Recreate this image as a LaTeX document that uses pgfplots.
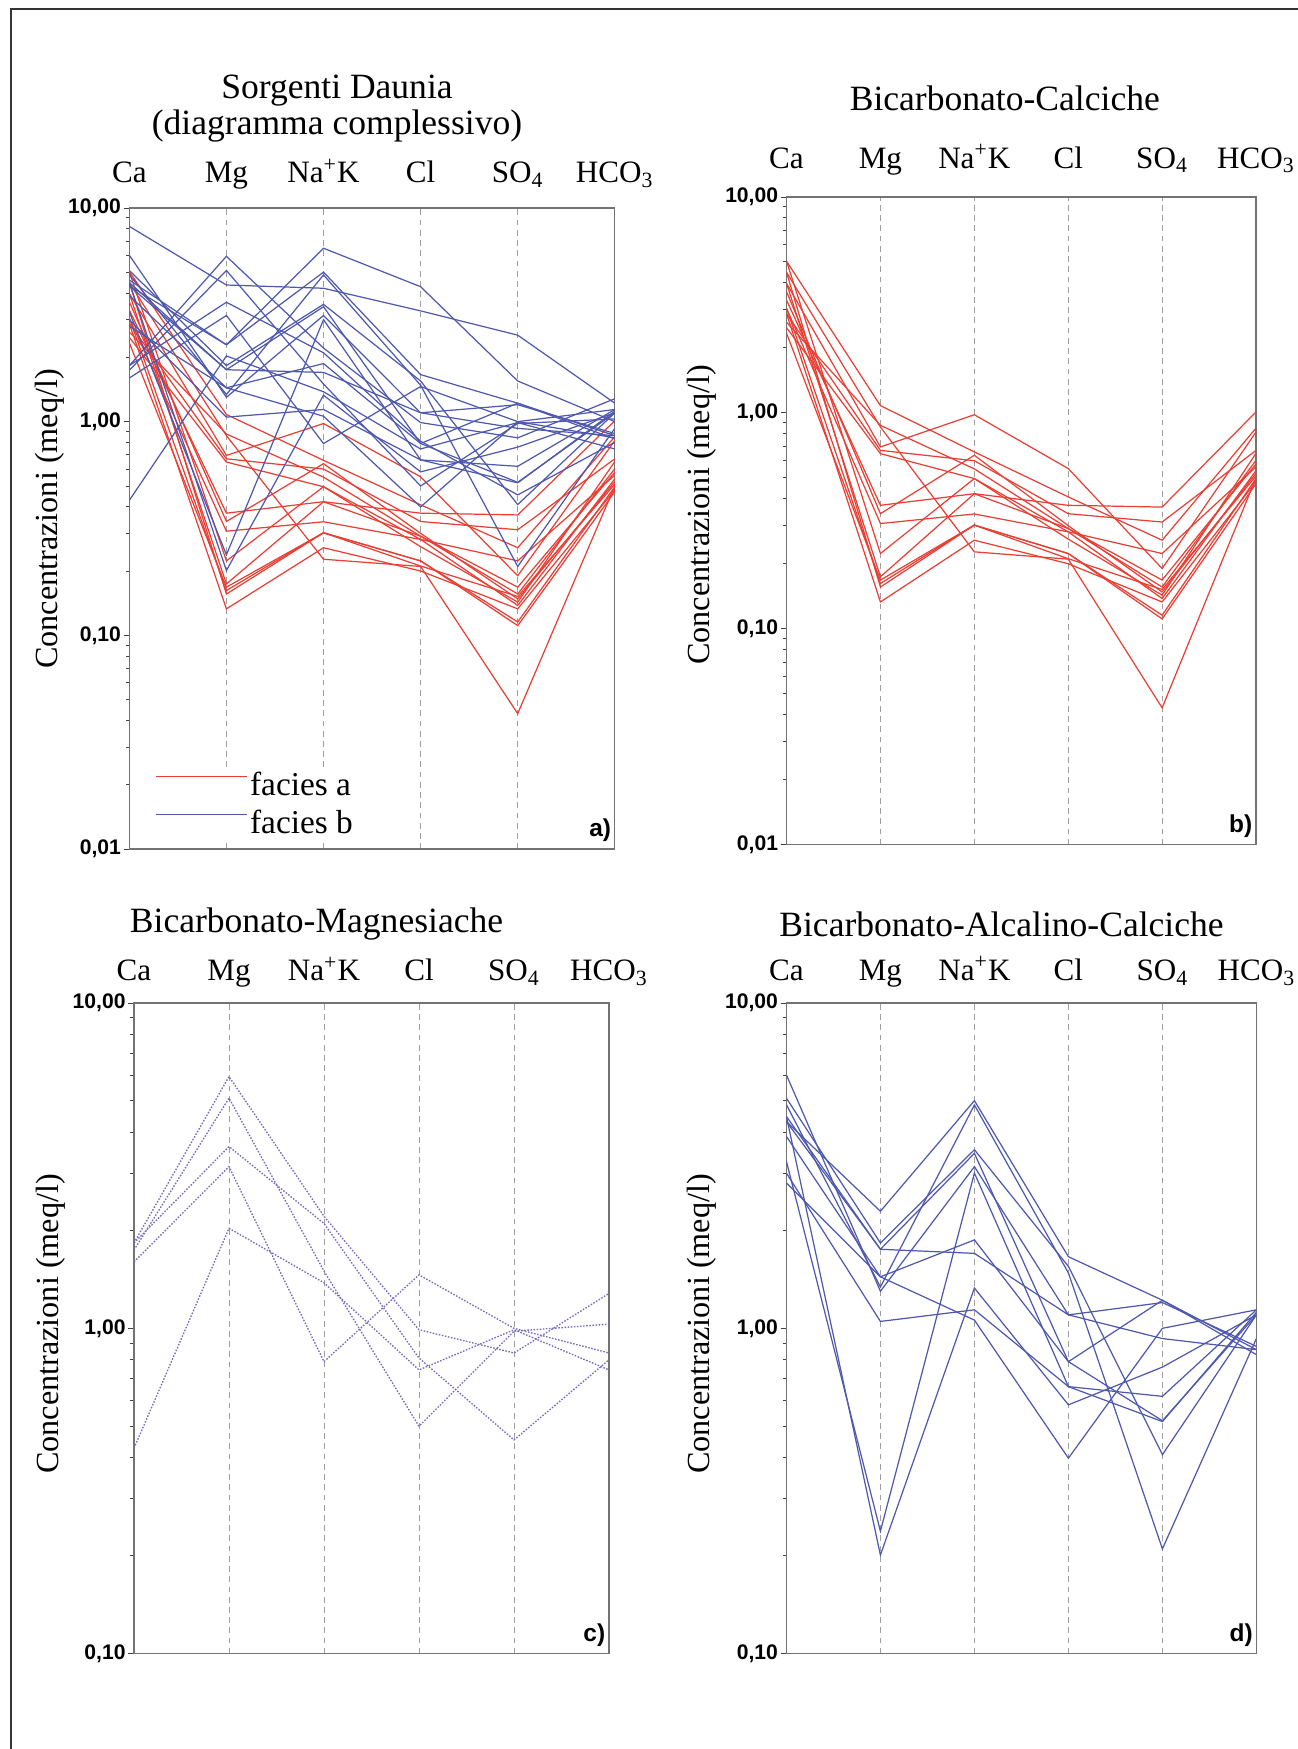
\documentclass[border=0pt]{standalone}
\usepackage{fontspec}
\setmainfont{Liberation Serif}
\newfontfamily\sansb{Liberation Sans}
\usepackage{pgfplots}
\usepackage{pgfplotstable}
\pgfplotsset{compat=1.18}

\definecolor{rline}{RGB}{232,62,52}
\definecolor{bline}{RGB}{78,88,172}
\definecolor{pline}{RGB}{118,108,190}

\newcommand\tickfont{\sansb\bfseries\fontsize{9.5}{11}\selectfont}
\newcommand\labfont{\sansb\bfseries\fontsize{11}{12}\selectfont}
\newcommand\catfont{\fontsize{14}{16}\selectfont}
\newcommand\titlefont{\fontsize{16}{19}\selectfont}
\newcommand\ylabfont{\fontsize{14.5}{17}\selectfont}
\newcommand\legfont{\fontsize{15}{17}\selectfont}

% Bicarbonato-Calciche (facies a)
\pgfplotstableread{
x s1 s2 s3 s4 s5 s6 s7 s8 s9 s10 s11 s12 s13 s14 s15
0 5.04 4.48 2.63 3.98 2.88 2.48 3.33 3.64 3.05 5.04 3.98 2.34 3.05 4.48 2.88
1 1.08 0.86 0.875 0.695 0.67 0.647 0.373 0.341 0.307 0.223 0.174 0.168 0.162 0.156 0.133
2 0.659 0.227 0.55 0.98 0.60 0.496 0.422 0.636 0.34 0.496 0.422 0.302 0.302 0.302 0.257
3 0.408 0.21 0.291 0.552 0.341 0.281 0.373 0.30 0.281 0.26 0.291 0.223 0.223 0.211 0.20
4 0.257 0.043 0.156 0.19 0.312 0.223 0.366 0.148 0.138 0.143 0.168 0.1155 0.111 0.152 0.133
5 0.85 0.50 0.603 0.815 0.67 0.562 1.01 0.524 0.54 0.65 0.58 0.496 0.47 0.51 0.48
}\tabB

% Bicarbonato-Magnesiache
\pgfplotstableread{
x s1 s2 s3 s4 s5
0 1.83 1.74 1.83 1.60 0.428
1 5.94 5.10 3.62 3.14 2.03
2 2.21 1.50 2.10 0.79 1.38
3 0.99 0.50 0.81 1.46 0.745
4 0.84 0.98 0.454 1.00 0.99
5 1.28 1.03 0.80 0.84 0.745
}\tabC

% Bicarbonato-Alcalino-Calciche
\pgfplotstableread{
x s1 s2 s3 s4 s5 s6 s7 s8 s9 s10 s11
0 4.32 4.87 5.10 4.48 6.01 3.26 4.48 3.00 4.32 3.89 2.80
1 2.29 1.34 1.83 1.75 1.30 0.238 0.201 1.05 1.75 1.44 1.44
2 5.01 4.86 3.54 3.45 3.14 3.00 1.33 1.14 1.70 1.87 1.06
3 1.66 1.48 1.55 0.79 1.10 0.662 0.582 0.662 1.10 0.79 0.399
4 1.22 0.21 0.409 1.22 1.20 0.618 0.76 0.517 0.93 0.52 1.00
5 0.86 0.93 1.10 0.83 0.88 1.14 1.10 1.12 0.86 1.10 1.14
}\tabD

% further facies b samples seen only in the overall diagram
\pgfplotstableread{
x s1 s2
0 8.2 4.6
1 4.36 2.29
2 4.21 6.48
3 3.3 4.28
4 2.54 1.55
5 1.22 1.0
}\tabE

\pgfplotsset{
  every axis/.append style={
    scale only axis,
    xmin=0, xmax=5,
    xtick={0,...,5},
    xticklabels={Ca,Mg,Na\textsuperscript{+}K,Cl,SO\textsubscript{4},HCO\textsubscript{3}},
    xticklabel pos=upper,
    xtick style={draw=none},
    xticklabel style={font=\catfont, anchor=base},
    xmajorgrids,
    x grid style={gray!75, line width=0.45pt, dash pattern=on 2.6pt off 2pt},
    ytick pos=left, tick align=outside,
    major tick length=2.6pt, minor tick length=1.6pt,
    y tick style={black!75, line width=0.4pt},
    yticklabel style={font=\tickfont, inner sep=1pt},
    axis line style={black!55, line width=0.55pt},
  },
}

\begin{document}
\begin{tikzpicture}[x=0.45pt,y=0.45pt]
\path[use as bounding box] (0,0) rectangle (1298,1749);
% page frame (scan border)
\draw[black!80, line width=0.6pt] (11,0) -- (11,1740) -- (1298,1740);

% ---------- a) ----------
\begin{axis}[ymode=log, anchor=south west, at={(58.19pt,405pt)}, width=218.48pt, height=288.45pt,
  ymin=0.01, ymax=10, ytick={0.01,0.1,1,10},
  yticklabels={{0,01},{0,10},{1,00},{10,00}},
  xticklabel style={yshift=8.8pt},
  legend style={at={(0.012,0.012)}, anchor=south west, fill=white, draw=none,
    font=\legfont, inner xsep=9pt, inner ysep=1pt, row sep=3pt,
    nodes={inner sep=1pt}},
  legend cell align=left,
  legend image code/.code={\draw[#1] (0pt,4pt) -- (41pt,4pt);},
]
\addlegendimage{color=rline, line width=0.55pt}
\addlegendentry{facies a\hspace{45pt}}
\addlegendimage{color=bline, line width=0.55pt}
\addlegendentry{facies b}
\pgfplotsinvokeforeach{1,...,15}{\addplot[color=rline, line width=0.55pt, mark=none, forget plot] table[x=x,y=s#1]{\tabB};}
\pgfplotsinvokeforeach{1,...,5}{\addplot[color=bline, line width=0.55pt, mark=none, forget plot] table[x=x,y=s#1]{\tabC};}
\pgfplotsinvokeforeach{1,...,11}{\addplot[color=bline, line width=0.55pt, mark=none, forget plot] table[x=x,y=s#1]{\tabD};}
\pgfplotsinvokeforeach{1,2}{\addplot[color=bline, line width=0.55pt, mark=none, forget plot] table[x=x,y=s#1]{\tabE};}
\node[anchor=south east, font=\labfont, inner sep=0pt] at (rel axis cs:1,0) [xshift=-1.5pt,yshift=3pt] {a)};
\end{axis}

% ---------- b) ----------
\begin{axis}[ymode=log, anchor=south west, at={(353.93pt,406.98pt)}, width=211.28pt, height=291.42pt,
  ymin=0.01, ymax=10, ytick={0.01,0.1,1,10},
  yticklabels={{0,01},{0,10},{1,00},{10,00}},
  xticklabel style={yshift=10.4pt},
]
\pgfplotsinvokeforeach{1,...,15}{\addplot[color=rline, line width=0.55pt, mark=none] table[x=x,y=s#1]{\tabB};}
\node[anchor=south east, font=\labfont, inner sep=0pt] at (rel axis cs:1,0) [xshift=-1.5pt,yshift=3pt] {b)};
\end{axis}

% ---------- c) ----------
\begin{axis}[ymode=log, anchor=south west, at={(60.3pt,42.89pt)}, width=213.75pt, height=292.82pt,
  ymin=0.1, ymax=10, ytick={0.1,1,10},
  yticklabels={{0,10},{1,00},{10,00}},
  xticklabel style={yshift=7.4pt},
]
\pgfplotsinvokeforeach{1,...,5}{\addplot[color=pline, line width=0.6pt, mark=none, dash pattern=on 0.7pt off 0.7pt] table[x=x,y=s#1]{\tabC};}
\node[anchor=south east, font=\labfont, inner sep=0pt] at (rel axis cs:1,0) [xshift=-1.5pt,yshift=3pt] {c)};
\end{axis}

% ---------- d) ----------
\begin{axis}[ymode=log, anchor=south west, at={(353.88pt,42.89pt)}, width=211.5pt, height=292.82pt,
  ymin=0.1, ymax=10, ytick={0.1,1,10},
  yticklabels={{0,10},{1,00},{10,00}},
  xticklabel style={yshift=7.6pt},
]
\pgfplotsinvokeforeach{1,...,11}{\addplot[color=bline, line width=0.55pt, mark=none] table[x=x,y=s#1]{\tabD};}
\node[anchor=south east, font=\labfont, inner sep=0pt] at (rel axis cs:1,0) [xshift=-1.5pt,yshift=3pt] {d)};
\end{axis}

% titles
\node[anchor=base, font=\titlefont] at (337,1650.2) {Sorgenti Daunia};
\node[anchor=base, font=\titlefont] at (337,1614.2) {(diagramma complessivo)};
\node[anchor=base, font=\titlefont] at (1004.8,1638) {Bicarbonato-Calciche};
\node[anchor=base, font=\titlefont] at (316.5,816.2) {Bicarbonato-Magnesiache};
\node[anchor=base, font=\titlefont] at (1001.5,812.9) {Bicarbonato-Alcalino-Calciche};

% y labels
\node[rotate=90, font=\ylabfont] at (50,1230) {Concentrazioni (meq/l)};
\node[rotate=90, font=\ylabfont] at (702,1234) {Concentrazioni (meq/l)};
\node[rotate=90, font=\ylabfont] at (51,425) {Concentrazioni (meq/l)};
\node[rotate=90, font=\ylabfont] at (702,425) {Concentrazioni (meq/l)};
\end{tikzpicture}
\end{document}
